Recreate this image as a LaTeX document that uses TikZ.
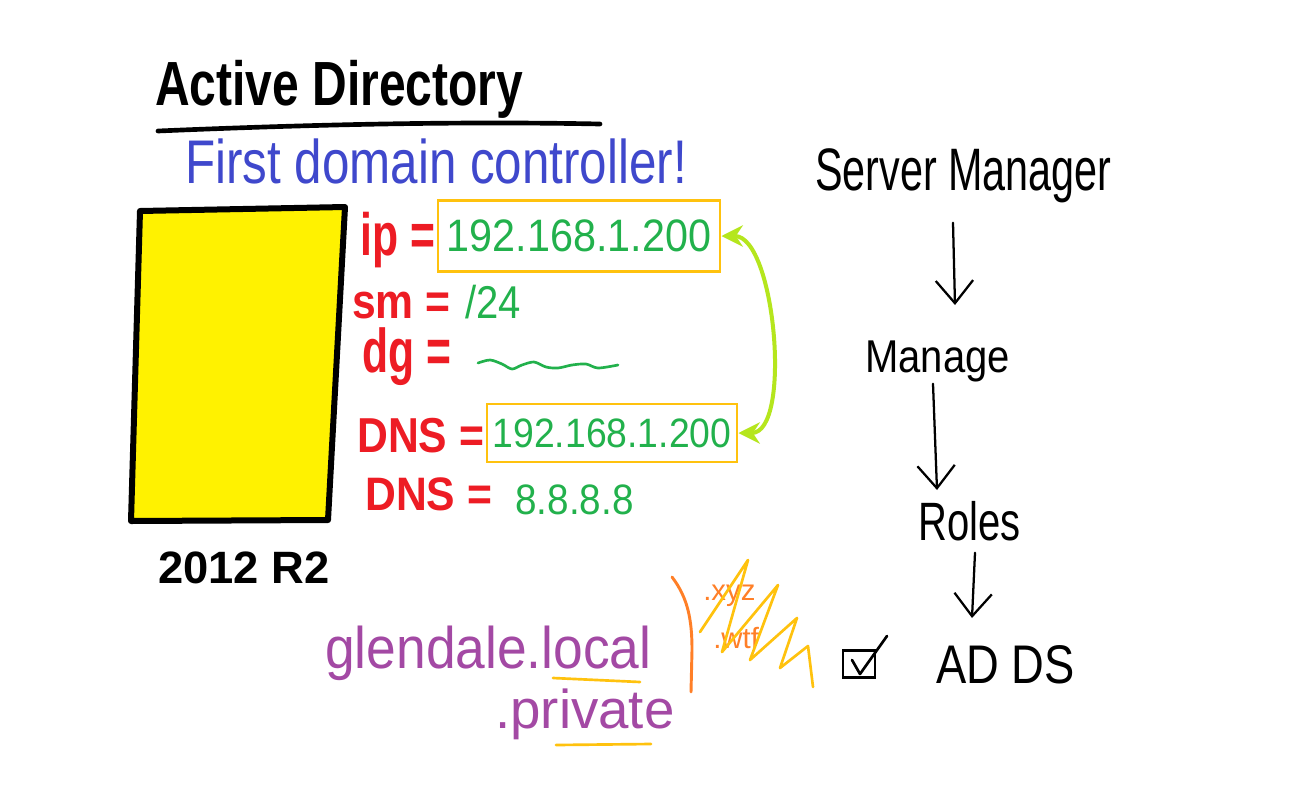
\documentclass[tikz,border=0pt]{standalone}
\usepackage{fontspec}
\usepackage{graphicx}
\setmainfont{Liberation Sans}
\usetikzlibrary{arrows.meta}
\definecolor{wred}{HTML}{ED1C24}
\definecolor{wgreen}{HTML}{22B14C}
\definecolor{wblue}{HTML}{3F48CC}
\definecolor{wpurple}{HTML}{A349A4}
\definecolor{worange}{HTML}{FF7F27}
\definecolor{wyel}{HTML}{FFC20E}
\definecolor{wfill}{HTML}{FFF200}
\definecolor{wlime}{HTML}{B5E61D}
\newcommand{\fs}[1]{\fontsize{#1}{#1}\selectfont}
\newcommand{\tall}[2]{\scalebox{1}[#1]{#2}}
\tikzset{
  txt/.style={anchor=base west, inner sep=0pt},
  redlbl/.style={txt, text=wred, font=\fs{32pt}\bfseries},
  grn/.style={txt, text=wgreen},
  ipbox/.style={draw=wyel, line width=2.2pt, inner sep=0pt, text=wgreen},
  handarr/.style={line width=1.7pt, line cap=round, line join=round,
    -{Straight Barb[length=17pt, width=28pt, line width=1.7pt]}},
  limearr/.style={draw=wlime, line width=3pt,
    {Stealth[length=16pt, width=16pt]}-{Stealth[length=16pt, width=16pt]}},
  scrib/.style={draw=wyel, line width=2pt, line cap=round, line join=round}
}
\begin{document}
\begin{tikzpicture}[x=0.75pt,y=-0.75pt]
\useasboundingbox[fill=white] (0,0) rectangle (1306,786);

% title
\node[txt, font=\fs{36pt}\bfseries] (title) at (155,105) {\tall{1.3}{Active Directory}};
\draw[line width=3.5pt, line cap=round] (158,131) .. controls (300,125) and (450,121) .. (600,124);
\node[txt, text=wblue, font=\fs{37pt}] (sub) at (185,183) {\tall{1.25}{First domain controller!}};

% server
\draw[line width=4.5pt, line join=round, fill=wfill] (140,211) -- (345,207) -- (328,520) -- (131,521) -- cycle;
\node[txt, font=\fs{34pt}\bfseries] (ver) at (158,583) {2012 R2};

% settings
\node[redlbl] (ip) at (360,255) {\tall{1.4}{ip =}};
\node[ipbox, minimum width=211.5pt, minimum height=53pt, font=\fs{31pt}] (box1) at (579,236) {\tall{1.1}{192.168.1.200}};
\node[redlbl] (sm) at (352,318) {\tall{1.15}{sm =}};
\node[grn, font=\fs{30pt}] (mask) at (465,318) {\tall{1.15}{/24}};
\node[redlbl] (dg) at (362,372) {\tall{1.45}{dg =}};
\draw[wgreen, line width=2pt, line cap=round] plot[smooth] coordinates {(478,363) (490,360) (502,364) (512,369) (522,365) (534,362) (546,367) (558,368) (572,365) (586,364) (598,368) (618,365)};
\node[redlbl] (dns1) at (357,452) {\tall{1.15}{DNS =}};
\node[ipbox, minimum width=187.5pt, minimum height=43.5pt, font=\fs{28pt}] (box2) at (612,433) {\tall{1.1}{192.168.1.200}};
\node[redlbl] (dns2) at (365,510) {\tall{1.1}{DNS =}};
\node[grn, font=\fs{29pt}] (alt) at (515,514) {\tall{1.1}{8.8.8.8}};
\draw[limearr] (box1.east) to[out=0, in=0, looseness=0.7] (box2.east);

% right column
\node[txt, font=\fs{31pt}] (srv) at (815,190) {\tall{1.45}{Server Manager}};
\node[txt, font=\fs{30pt}] (mng) at (865,372) {\tall{1.15}{Manage}};
\node[txt, font=\fs{30pt}] (roles) at (918,540) {\tall{1.35}{Roles}};
\node[txt, font=\fs{34pt}] (adds) at (936,683) {\tall{1.2}{AD DS}};
\draw[handarr] (srv.south -| 953,0) ++(0,20) -- (955,305);
\draw[handarr] (mng.south -| 933,0) ++(0,2) -- (937,490);
\draw[handarr] (roles.south -| 975,0) ++(0,12) -- (972,618);
\node[draw, line width=2pt, minimum width=24pt, minimum height=20pt, inner sep=0pt] (cb) at (859,664) {};
\draw[line width=2pt, line cap=round, line join=round] (852,660) -- (860,674) -- (887,636);

% domain names
\node[txt, text=wpurple, font=\fs{40pt}] (dom) at (325,668) {\tall{1.1}{glendale.local}};
\node[txt, text=wpurple, font=\fs{41pt}] (priv) at (495,728) {.private};
\draw[scrib] (553,678) -- (640,682);
\draw[scrib] (556,745) -- (651,744);
\draw[worange, line width=2.2pt, line cap=round] (672,577) .. controls (688,598) and (692,620) .. (692,650) -- (691,692);
\node[txt, text=worange, font=\fs{22pt}] (xyz) at (703,600) {.xyz};
\node[txt, text=worange, font=\fs{22pt}] (wtf) at (713,648) {.wtf};
\draw[scrib] (700,632) -- (748,560) -- (722,652) -- (778,585) -- (750,660) -- (797,618) -- (780,668) -- (808,646) -- (813,687);
\end{tikzpicture}
\end{document}
